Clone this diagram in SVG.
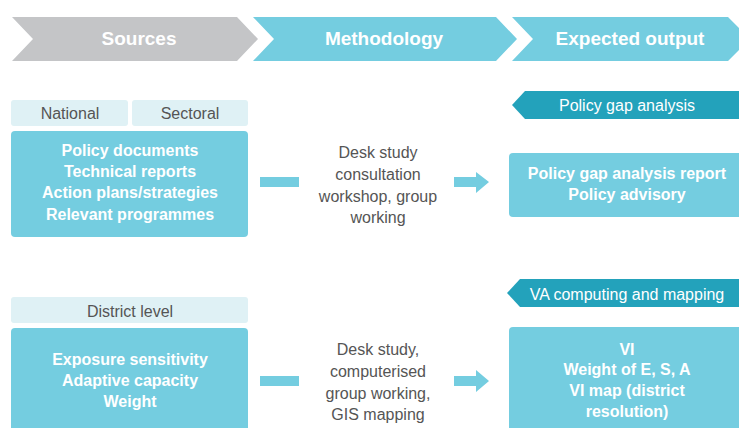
<svg xmlns="http://www.w3.org/2000/svg" width="739" height="428" viewBox="0 0 739 428">
<style>
.hdr{font-family:"Liberation Sans",Arial,sans-serif;font-weight:bold;font-size:19px;fill:#ffffff;text-anchor:middle}
.box{fill:#74cde0}
.tab{fill:#dff1f5}
.tabt{font-family:"Liberation Sans",Arial,sans-serif;font-size:16px;fill:#555555;text-anchor:middle}
.bt{font-family:"Liberation Sans",Arial,sans-serif;font-weight:bold;font-size:16px;fill:#ffffff;text-anchor:middle}
.mt{font-family:"Liberation Sans",Arial,sans-serif;font-size:16px;fill:#555555;text-anchor:middle}
.ban{fill:#23a2bb}
.bant{font-family:"Liberation Sans",Arial,sans-serif;font-size:16px;fill:#ffffff;text-anchor:middle}
.con{fill:#74cde0}
</style>
<rect width="739" height="428" fill="#ffffff"/>
<g id="header-sources">
<polygon points="12,17 237,17 258,39 237,61 12,61 33,39" fill="#c4c5c7"/>
<text class="hdr" x="139" y="45">Sources</text>
</g>
<g id="header-methodology">
<polygon points="253,17 496,17 517,39 496,61 253,61 274,39" fill="#74cde0"/>
<text class="hdr" x="384" y="45">Methodology</text>
</g>
<g id="header-output">
<polygon points="512,17 728,17 750,39 728,61 512,61 533,39" fill="#74cde0"/>
<text class="hdr" x="630" y="45">Expected output</text>
</g>
<g id="tab-national">
<rect class="tab" x="11" y="100" width="117" height="26" rx="3"/>
<text class="tabt" x="70" y="119">National</text>
</g>
<g id="tab-sectoral">
<rect class="tab" x="132" y="100" width="116" height="26" rx="3"/>
<text class="tabt" x="190" y="119">Sectoral</text>
</g>
<g id="sources-1">
<rect class="box" x="11" y="131" width="237" height="106" rx="4"/>
<text class="bt" x="130" y="156">Policy documents</text>
<text class="bt" x="130" y="177">Technical reports</text>
<text class="bt" x="130" y="198">Action plans/strategies</text>
<text class="bt" x="130" y="220">Relevant programmes</text>
</g>
<g id="method-1">
<text class="mt" x="378" y="158">Desk study</text>
<text class="mt" x="378" y="180">consultation</text>
<text class="mt" x="378" y="202">workshop, group</text>
<text class="mt" x="378" y="223">working</text>
</g>
<g id="banner-1">
<polygon class="ban" points="512,105 525,91 739,91 739,119 525,119"/>
<text class="bant" x="627" y="111">Policy gap analysis</text>
</g>
<g id="output-1">
<rect class="box" x="509" y="153" width="240" height="64" rx="4"/>
<text class="bt" x="627" y="179">Policy gap analysis report</text>
<text class="bt" x="627" y="200">Policy advisory</text>
</g>
<g id="tab-district">
<rect class="tab" x="11" y="297" width="237" height="26" rx="3"/>
<text class="tabt" x="130" y="317">District level</text>
</g>
<g id="sources-2">
<rect class="box" x="11" y="328" width="237" height="110" rx="4"/>
<text class="bt" x="130" y="365">Exposure sensitivity</text>
<text class="bt" x="130" y="386">Adaptive capacity</text>
<text class="bt" x="130" y="407">Weight</text>
</g>
<g id="method-2">
<text class="mt" x="378" y="355">Desk study,</text>
<text class="mt" x="378" y="377">computerised</text>
<text class="mt" x="378" y="399">group working,</text>
<text class="mt" x="378" y="420">GIS mapping</text>
</g>
<g id="banner-2">
<polygon class="ban" points="507,293 520,279 739,279 739,307 520,307"/>
<text class="bant" x="627" y="300">VA computing and mapping</text>
</g>
<g id="output-2">
<rect class="box" x="509" y="327" width="240" height="111" rx="4"/>
<text class="bt" x="627" y="355">VI</text>
<text class="bt" x="627" y="375">Weight of E, S, A</text>
<text class="bt" x="627" y="396">VI map (district</text>
<text class="bt" x="627" y="417">resolution)</text>
</g>
<g id="connectors">
<rect class="con" x="260" y="177" width="39" height="10"/>
<polygon class="con" points="454,177 476,177 476,172 489,182 476,193 476,187 454,187"/>
<rect class="con" x="260" y="376" width="39" height="10"/>
<polygon class="con" points="454,376 476,376 476,370 489,381 476,392 476,386 454,386"/>
</g>
</svg>
